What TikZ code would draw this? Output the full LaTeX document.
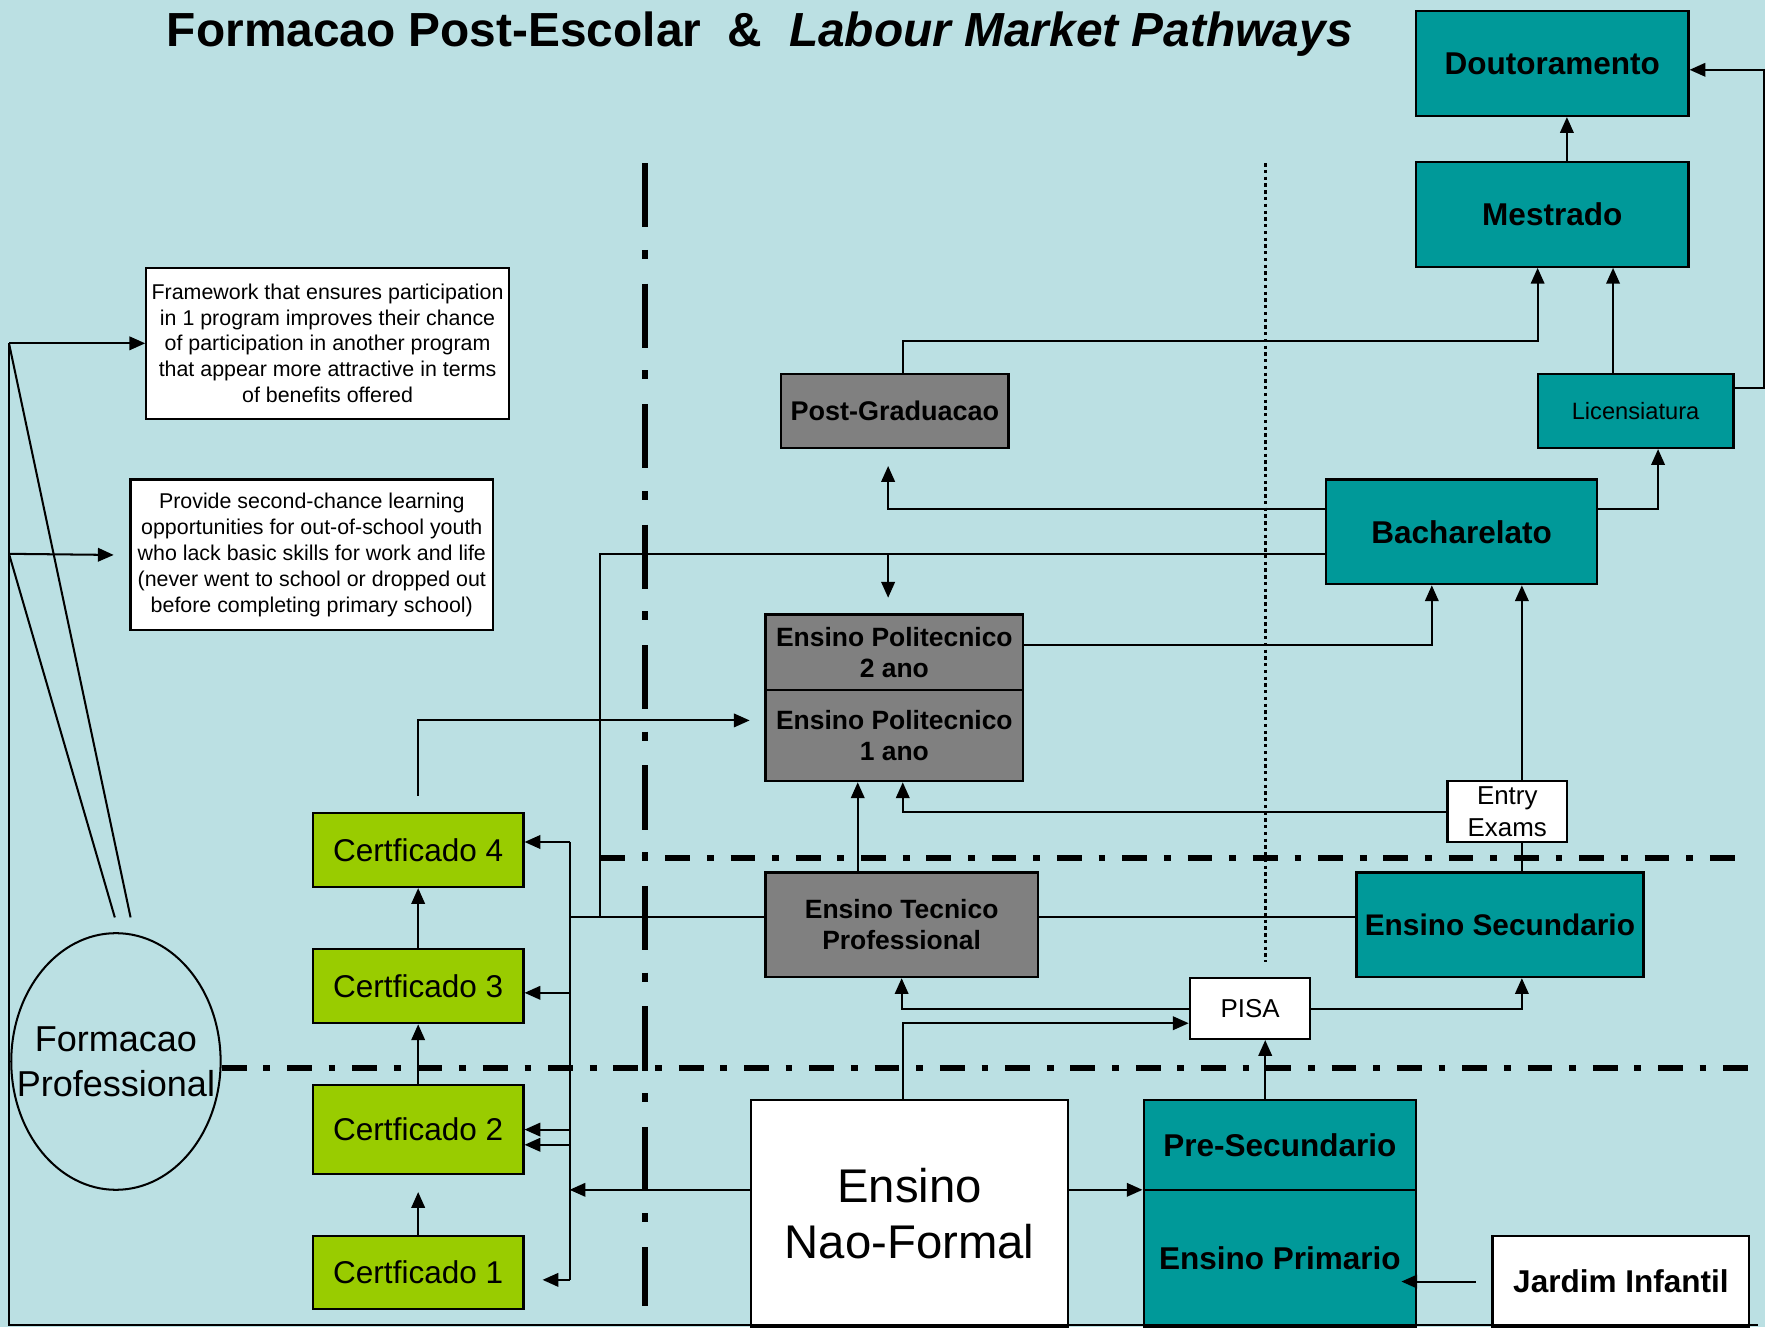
\documentclass[tikz,border=0pt]{standalone}
\usepackage{fontspec}
\setmainfont{Liberation Sans}
\usetikzlibrary{arrows.meta,shapes.geometric,calc}
\definecolor{bgblue}{RGB}{187,224,227}
\definecolor{tealc}{RGB}{0,153,153}
\definecolor{grayc}{RGB}{128,128,128}
\definecolor{greenc}{RGB}{153,204,0}
\begin{document}
\begin{tikzpicture}[x=1pt,y=-1pt,
 box/.style={draw=black,line width=2pt,inner sep=0pt,align=center},
 tealbox/.style={box,fill=tealc},
 graybox/.style={box,fill=grayc},
 greenbox/.style={box,fill=greenc},
 whitebox/.style={box,fill=white},
 conn/.style={line width=1.8pt},
 arr/.style={conn,-{Triangle[length=14pt,width=12pt]}},
 vdash/.style={line width=5pt,dash pattern=on 57pt off 20pt on 8pt off 22pt},
 hdash/.style={line width=5pt,dash pattern=on 22pt off 15pt on 6pt off 15pt},
 dotl/.style={line width=3pt,dash pattern=on 3pt off 3pt},
 fbig/.style={font=\fontsize{28}{34}\selectfont\bfseries},
 fmid/.style={font=\fontsize{23.5}{28}\selectfont\bfseries},
 fsmall/.style={font=\fontsize{19}{23}\selectfont},
]
\fill[bgblue] (0,0) rectangle (1568,1179);
\useasboundingbox (0,0) rectangle (1568,1179);

% title
\node[font=\fontsize{42.5}{50}\selectfont\bfseries] (title) at (675,30)
  {Formacao Post-Escolar\ \ \&\ \ \textit{Labour Market Pathways}};

% dividers
\draw[vdash] (573,145) -- (573,1160);
\draw[hdash] (533,762) -- (1555,762);
\draw[hdash] (197,949) -- (1555,949);
\draw[dotl] (1124,145) -- (1124,855);

% nodes
\node[tealbox,fbig,minimum width=242pt,minimum height=93pt] (dout) at (1379,56.5) {Doutoramento};
\node[tealbox,fbig,minimum width=242pt,minimum height=93pt] (mest) at (1379,190.5) {Mestrado};
\node[tealbox,font=\fontsize{21}{25}\selectfont,minimum width=174pt,minimum height=66pt] (lic) at (1453,365) {Licensiatura};
\node[graybox,font=\fontsize{24}{29}\selectfont\bfseries,minimum width=202pt,minimum height=66pt] (postg) at (795,365) {Post-Graduacao};
\node[tealbox,fbig,minimum width=241pt,minimum height=93pt] (bach) at (1298.5,472.5) {Bacharelato};
\node[whitebox,fsmall,minimum width=322pt,minimum height=134pt] (frame) at (291,305)
  {Framework that ensures participation\\in 1 program improves their chance\\of participation in another program\\that appear more attractive in terms\\of benefits offered};
\node[whitebox,fsmall,minimum width=322pt,minimum height=134pt] (prov) at (277,493)
  {Provide second-chance learning\\opportunities for out-of-school youth\\who lack basic skills for work and life\\(never went to school or dropped out\\before completing primary school)};
\node[graybox,fmid,minimum width=229pt,minimum height=67pt] (poli2) at (794.5,579.5) {Ensino Politecnico\\2 ano};
\node[graybox,fmid,minimum width=229pt,minimum height=81pt] (poli1) at (794.5,653.5) {Ensino Politecnico\\1 ano};
\node[whitebox,font=\fontsize{23}{28}\selectfont,minimum width=106pt,minimum height=54pt] (entry) at (1339,721) {Entry\\Exams};
\node[greenbox,font=\fontsize{28}{34}\selectfont,minimum width=187pt,minimum height=66pt] (cert4) at (371.5,755) {Certficado 4};
\node[greenbox,font=\fontsize{28}{34}\selectfont,minimum width=187pt,minimum height=66pt] (cert3) at (371.5,876) {Certficado 3};
\node[greenbox,font=\fontsize{28}{34}\selectfont,minimum width=187pt,minimum height=79pt] (cert2) at (371.5,1003.5) {Certficado 2};
\node[greenbox,font=\fontsize{28}{34}\selectfont,minimum width=187pt,minimum height=65pt] (cert1) at (371.5,1130.5) {Certficado 1};
\node[graybox,fmid,minimum width=242pt,minimum height=93pt] (tecn) at (801,821.5) {Ensino Tecnico\\Professional};
\node[tealbox,font=\fontsize{26.5}{32}\selectfont\bfseries,minimum width=255pt,minimum height=93pt] (secu) at (1332.5,821.5) {Ensino Secundario};
\node[whitebox,font=\fontsize{23}{28}\selectfont,minimum width=107pt,minimum height=54pt] (pisa) at (1110.5,896) {PISA};
\node[whitebox,font=\fontsize{42}{50}\selectfont,minimum width=282pt,minimum height=202pt] (naof) at (808,1078) {Ensino\\Nao-Formal};
\node[tealbox,fbig,minimum width=242pt,minimum height=80pt] (pres) at (1137,1017) {Pre-Secundario};
\node[tealbox,fbig,minimum width=242pt,minimum height=122pt] (prim) at (1137,1118) {Ensino Primario};
\node[whitebox,fbig,minimum width=228pt,minimum height=81pt] (jard) at (1440,1138.5) {Jardim Infantil};
\node[ellipse,draw=black,line width=1.8pt,inner sep=0pt,minimum width=186pt,minimum height=228pt] (ell) at (103,943) {};
\node[inner sep=0pt,align=center,font=\fontsize{32}{40}\selectfont] (elltxt) at (ell.center) {Formacao\\Professional};

% named free points
\coordinate (L1) at (8,305);
\coordinate (L2) at (8,492);
\coordinate (LB) at (8,1177);
\coordinate (RB) at (1562,1177);
\coordinate (E1) at (116,815);
\coordinate (E2) at (102,815);
\coordinate (jA) at (533,815);
\coordinate (jC) at (789,492);
\coordinate (v4) at (506,748);
\coordinate (v1) at (506,1137);

% connectors upper right
\draw[arr] ([xshift=13pt]mest.north) -- ([xshift=13pt]dout.south);
\draw[arr] ([yshift=20pt]lic.east) -| ([xshift=66pt,yshift=-5.5pt]dout.east) -- ([yshift=-5.5pt]dout.east);
\draw[arr] ([xshift=-20pt]lic.north) -- ([xshift=-20pt]lic.north |- mest.south);
\draw[arr] ([xshift=7pt]postg.north) -- ++(0,-28) -| ([xshift=-13pt]mest.south);
\draw[arr] ([yshift=20.5pt]bach.east) -| ([xshift=20pt]lic.south);
\draw[arr] ([yshift=20.5pt]bach.west) -| ([xshift=-6pt,yshift=-15pt]postg.south);
\draw[conn] ([yshift=-19.5pt]bach.west) -| (jA);
\draw[arr] (jC) -- ([xshift=-5.5pt,yshift=14pt]poli2.north);
\draw[arr] ([yshift=6.5pt]poli2.east) -| ([xshift=-26.5pt]bach.south);
\draw[arr] ([yshift=14pt]cert4.north) |- ([xshift=-13pt,yshift=13.5pt]poli1.west);
\draw[arr] ([xshift=-39pt]tecn.north) -- ([xshift=-39pt]tecn.north |- poli1.south);
\draw[arr] (entry.west) -| ([xshift=7.5pt]poli1.south);
\draw[conn] ([xshift=19.5pt]secu.north) -- ([xshift=19.5pt]secu.north |- entry.south);
\draw[arr] ([xshift=13pt]entry.north) -- ([xshift=13pt]entry.north |- bach.south);
\draw[conn] ([yshift=6.5pt]tecn.east) -- ([yshift=6.5pt]tecn.east -| secu.west);
\draw[conn] ([yshift=6.5pt]tecn.west) -- ([yshift=6.5pt]tecn.west -| v4);

% certificates bus
\draw[conn] (v4) -- (v1);
\draw[arr] ([yshift=7pt]cert4.east -| v4) -- ([yshift=7pt]cert4.east);
\draw[arr] ([yshift=-6pt]cert3.east -| v4) -- ([yshift=-6pt]cert3.east);
\draw[arr] (cert2.east -| v4) -- (cert2.east);
\draw[arr] ([yshift=-13.5pt]cert2.east -| v4) -- ([yshift=-13.5pt]cert2.east);
\draw[arr] (v1) -- ([xshift=16pt,yshift=-6.5pt]cert1.east);
\draw[arr] ([yshift=21pt]naof.west) -- ([yshift=21pt]naof.west -| v4);
\draw[arr] (cert1.north) -- ([yshift=-15pt]cert2.south);
\draw[arr] (cert2.north) -- (cert3.south);
\draw[arr] (cert3.north) -- (cert4.south);

% lower connectors
\draw[arr] ([yshift=21pt]naof.east) -- ([yshift=21pt]naof.east -| pres.west);
\draw[arr] ([xshift=-6pt]naof.north) |- ([yshift=-13pt]pisa.west);
\draw[arr] (pisa.west) -| (tecn.south);
\draw[arr] (pisa.east) -| ([xshift=19.5pt]secu.south);
\draw[arr] ([xshift=-13pt]pres.north) -- ([xshift=-13pt]pres.north |- pisa.south);
\draw[arr] ([xshift=-14pt]jard.west) -- ([xshift=-14pt]jard.west -| prim.east);

% left side
\draw[conn] (L1) -- (LB) -- (RB);
\draw[arr] (L1) -- (frame.west);
\draw[arr] (L2) -- ([xshift=-14pt]prov.west);
\draw[conn] (L1) -- (E1);
\draw[conn] (L2) -- (E2);
\end{tikzpicture}
\end{document}
